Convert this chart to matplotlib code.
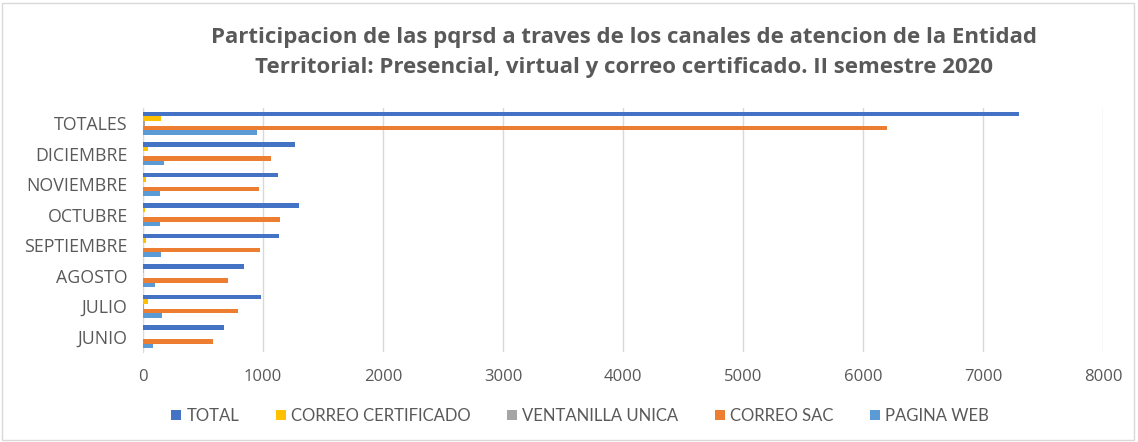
import matplotlib
matplotlib.use("Agg")
import matplotlib.pyplot as plt
from matplotlib.patches import Rectangle
import numpy as np

categories = ["JUNIO", "JULIO", "AGOSTO", "SEPTIEMBRE", "OCTUBRE", "NOVIEMBRE", "DICIEMBRE", "TOTALES"]
series_names = ["TOTAL", "CORREO CERTIFICADO", "VENTANILLA UNICA", "CORREO SAC", "PAGINA WEB"]
total = [675, 981, 839, 1136, 1297, 1125, 1270, 7300]
correo_certificado = [2, 40, 12, 22, 14, 22, 40, 150]
ventanilla_unica = [2, 10, 2, 2, 2, 2, 2, 15]
correo_sac = [583, 792, 711, 972, 1144, 964, 1064, 6200]
pagina_web = [86, 158, 103, 150, 140, 142, 178, 950]
colors = ["#4472C4", "#FFC000", "#A5A5A5", "#ED7D31", "#5B9BD5"]
xticks = [0, 1000, 2000, 3000, 4000, 5000, 6000, 7000, 8000]

plt.rcParams['font.family'] = ['Open Sans', 'DejaVu Sans']

fig = plt.figure(figsize=(11.38, 4.42), dpi=100)
ax = fig.add_axes([143/1138, 1 - 352/442, (1103-143)/1138, (352-108)/442])

series = [total, correo_certificado, ventanilla_unica, correo_sac, pagina_web]
y = np.arange(len(categories))
h = 0.15
for i, (name, vals, c) in enumerate(zip(series_names, series, colors)):
    offset = (2 - i) * h
    ax.barh(y + offset, vals, height=h, color=c, label=name, zorder=3)

ax.set_ylim(-0.5, len(categories) - 0.5)
ax.set_xlim(0, 8000)
ax.set_xticks(xticks)
ax.set_yticks(y)
ax.set_yticklabels(categories)
ax.grid(axis='x', color='#D9D9D9', linewidth=1, zorder=0)
for s in ['top', 'right', 'bottom']:
    ax.spines[s].set_visible(False)
ax.spines['left'].set_color('#D9D9D9')
ax.tick_params(axis='x', length=0, labelsize=12, labelcolor='#595959', pad=12)
ax.tick_params(axis='y', length=0, labelsize=12.8, labelcolor='#595959', pad=11)

fig.text(624/1138, 1 - 37/442, "Participacion de las pqrsd a traves de los canales de atencion de la Entidad",
         ha='center', va='center', fontsize=16, fontweight='bold', color='#595959')
fig.text(624/1138, 1 - 67/442, "Territorial: Presencial, virtual y correo certificado. II semestre 2020",
         ha='center', va='center', fontsize=16, fontweight='bold', color='#595959')

leg = fig.legend(loc='center', bbox_to_anchor=(580/1138, 1 - 416/442), ncol=5, frameon=False,
                 prop={'family': ['Lato', 'DejaVu Sans'], 'size': 12},
                 handlelength=0.6, handleheight=0.6, handletextpad=0.3,
                 columnspacing=2.2, labelcolor='#595959')

fig.patches.append(Rectangle((2/1138, 2/442), 1132/1138, 437/442, transform=fig.transFigure,
                             fill=False, edgecolor='#D9D9D9', linewidth=1))

fig.savefig("out.png", dpi=100)
